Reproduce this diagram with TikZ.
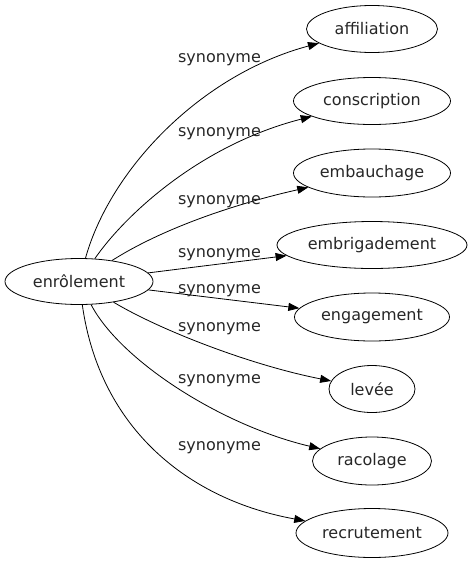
\documentclass[tikz,border=0pt]{standalone}
\usepackage{fontspec}
\setmainfont{DejaVu Sans}
\usetikzlibrary{shapes.geometric,arrows.meta}
\tikzset{
  word/.style={draw,ellipse,inner sep=0pt,line width=0.8pt,font=\fontsize{16}{19}\selectfont,text=black!85},
  syn/.style={font=\fontsize{16}{19}\selectfont,text=black!85,anchor=base,inner sep=0pt},
  link/.style={line width=0.8pt,-{Triangle[length=11pt,width=8pt]}}
}
\begin{document}
\begin{tikzpicture}[x=1pt,y=-1pt]
\useasboundingbox (0,0) rectangle (472,563);
\node[word,minimum width=148pt,minimum height=46pt] (enr) at (79,281.5) {enrôlement};
\node[word,minimum width=131pt,minimum height=47pt] (aff) at (372,29) {affiliation};
\node[word,minimum width=157pt,minimum height=47pt] (con) at (372,101) {conscription};
\node[word,minimum width=157pt,minimum height=48pt] (emb) at (372,173) {embauchage};
\node[word,minimum width=190pt,minimum height=47pt] (ebr) at (372,245) {embrigadement};
\node[word,minimum width=155pt,minimum height=48pt] (eng) at (372,317) {engagement};
\node[word,minimum width=86pt,minimum height=47pt] (lev) at (372,389) {levée};
\node[word,minimum width=119pt,minimum height=48pt] (rac) at (372,461) {racolage};
\node[word,minimum width=152pt,minimum height=49pt] (rec) at (372,533) {recrutement};

\draw[link] (enr) .. controls (110,170) and (200,75) .. (aff);
\draw[link] (enr) .. controls (125,215) and (200,145) .. (con);
\draw[link] (enr) .. controls (160,230) and (230,205) .. (emb);
\draw[link] (enr) -- (ebr);
\draw[link] (enr) -- (eng);
\draw[link] (enr) .. controls (160,330) and (250,365) .. (lev);
\draw[link] (enr) .. controls (120,360) and (220,425) .. (rac);
\draw[link] (enr) .. controls (100,430) and (190,500) .. (rec);

\node[syn] (l1) at (219.5,62) {synonyme};
\node[syn] (l2) at (219.5,136.5) {synonyme};
\node[syn] (l3) at (219.5,204) {synonyme};
\node[syn] (l4) at (219.5,257) {synonyme};
\node[syn] (l5) at (219.5,293) {synonyme};
\node[syn] (l6) at (219.5,331) {synonyme};
\node[syn] (l7) at (219.5,383) {synonyme};
\node[syn] (l8) at (219.5,450) {synonyme};
\end{tikzpicture}
\end{document}
